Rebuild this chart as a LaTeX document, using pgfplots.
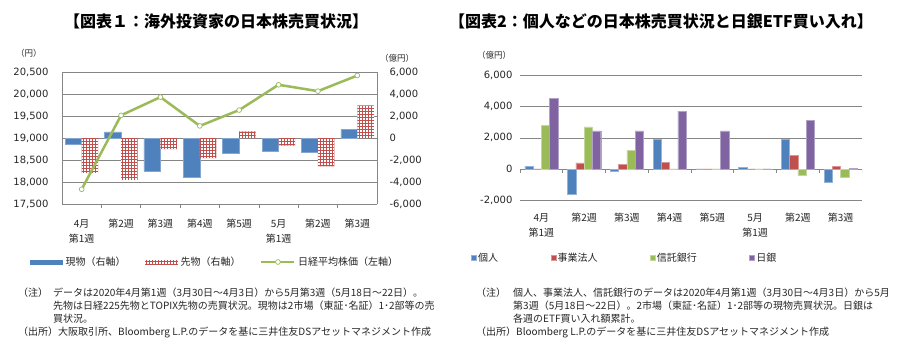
\documentclass[border=0pt]{standalone}
\usepackage{pgfplots}
\pgfplotsset{compat=1.18}
\usetikzlibrary{patterns}
\usepackage{fontspec}
\setmainfont{Noto Sans CJK JP}
\newfontfamily\numfont{DejaVu Sans}
\definecolor{cBlue}{HTML}{4F81BD}
\definecolor{cRed}{HTML}{C0504D}
\definecolor{cGreen}{HTML}{9BBB59}
\definecolor{cPurple}{HTML}{8064A2}
\definecolor{cGrid}{HTML}{868686}
\definecolor{cText}{HTML}{262626}
\pgfdeclarepatternformonly{wdots}{\pgfqpoint{-1pt}{-1pt}}{\pgfqpoint{3pt}{3pt}}{\pgfqpoint{3pt}{3pt}}{\pgfpathrectangle{\pgfqpoint{0pt}{0pt}}{\pgfqpoint{1.8pt}{1.8pt}}\pgfusepath{fill}}
\pgfplotsset{
  bigbar/.style={legend image code/.code={\fill[##1] (0pt,-2.5pt) rectangle (33pt,2.5pt);}},
  smallbar/.style={legend image code/.code={\fill[##1] (0pt,-2.5pt) rectangle (5pt,2.5pt);}},
  longline/.style={legend image code/.code={\draw[mark repeat=2,mark phase=2,##1] plot coordinates {(0pt,0pt) (16.5pt,0pt) (33pt,0pt)};}},
  base/.style={scale only axis, xmin=-0.5, xmax=7.5, major tick length=0pt,
    grid style={cGrid, line width=0.6pt},
    scaled y ticks=false,
    yticklabel style={font=\numfont\fontsize{10}{12}\selectfont, text=cText, /pgf/number format/fixed, /pgf/number format/precision=0},
    xticklabel style={align=center, font=\fontsize{10}{15}\selectfont, text=cText},
    /pgf/number format/1000 sep={,}, /pgf/number format/assume math mode=true},
  redbar/.style={fill=cRed, draw=none, postaction={pattern=wdots, pattern color=white}},
}
\begin{document}
\begin{tikzpicture}[x=1pt,y=1pt]
\fill[white] (0pt,0pt) rectangle (899pt,-345pt);
\useasboundingbox (0pt,0pt) rectangle (899pt,-345pt);

% ---------- titles
\node[font=\bfseries\fontsize{16}{18}\selectfont, text=black] at (216pt,-21pt) {【図表１：海外投資家の日本株売買状況】};
\node[font=\bfseries\fontsize{16}{18}\selectfont, text=black] at (661pt,-21pt) {【図表2：個人などの日本株売買状況と日銀ETF買い入れ】};

% ---------- chart 1 : right axis (bars)
\begin{axis}[base, at={(62pt,-204pt)}, anchor=south west, width=315pt, height=132pt,
  ymin=-6000, ymax=6000, ytick={-6000,-4000,...,6000},
  axis y line*=right, axis x line*=bottom, axis line style={-, draw=cGrid, line width=0.6pt},
  ymajorgrids,
  xtick={0,...,7},
  xticklabels={{4月\\第1週},第2週,第3週,第4週,第5週,{5月\\第1週},第2週,第3週},
  xticklabel style={yshift=-12pt},
  yticklabel style={xshift=9pt},
  extra x ticks={0.5,1.5,2.5,3.5,4.5,5.5,6.5}, extra x tick labels={},
  extra x tick style={major tick length=4pt, tick align=outside, tick style={cGrid, line width=0.6pt}, grid=none},
  ybar=0pt, bar width=16.5pt]
\addplot[fill=cBlue, draw=cBlue!70!white, line width=0.5pt] coordinates {(0,-600) (1,550) (2,-3000) (3,-3550) (4,-1430) (5,-1210) (6,-1300) (7,760)};
\addplot[redbar] coordinates {(0,-3180) (1,-3800) (2,-1000) (3,-1820) (4,600) (5,-700) (6,-2580) (7,2960)};
\end{axis}

% ---------- chart 1 : left axis (line)
\begin{axis}[base, at={(62pt,-204pt)}, anchor=south west, width=315pt, height=132pt,
  ymin=17500, ymax=20500, ytick={17500,18000,...,20500},
  axis y line*=left, axis x line=none, axis line style={-, draw=cGrid, line width=0.6pt},
  xtick=\empty,
  yticklabel style={xshift=-10pt},
  legend style={at={(axis description cs:-0.1016,-0.4394)}, anchor=west, draw=none, fill=none,
    legend columns=3, inner sep=0pt, font=\fontsize{10}{12}\selectfont, text=cText,
    nodes={inner sep=2.5pt},
    /tikz/every even column/.append style={column sep=17pt}},
  legend cell align=left]
\addlegendimage{bigbar, fill=cBlue, draw=none}
\addlegendentry{現物（右軸）}
\addlegendimage{bigbar, redbar}
\addlegendentry{先物（右軸）}
\addplot[cGreen, line width=2.5pt, mark=*, mark size=2.4pt, mark options={fill=white, draw=cGreen, line width=0.7pt}, longline]
  coordinates {(0,17835) (1,19515) (2,19930) (3,19275) (4,19635) (5,20210) (6,20065) (7,20420)};
\addlegendentry{日経平均株価（左軸）}
\end{axis}

\node[font=\fontsize{8.5}{10}\selectfont, text=cText] at (29pt,-53pt) {（円）};
\node[font=\fontsize{8.5}{10}\selectfont, text=cText] at (397pt,-58pt) {（億円）};

% ---------- chart 2
\begin{axis}[base, at={(520pt,-200.7pt)}, anchor=south west, width=342pt, height=125.7pt,
  ymin=-2000, ymax=6000, ytick={-2000,0,...,6000},
  axis line style={draw=none},
  ymajorgrids,
  xtick={0,...,7},
  xticklabels={{4月\\第1週},第2週,第3週,第4週,第5週,{5月\\第1週},第2週,第3週},
  xticklabel style={yshift=-9pt},
  yticklabel style={xshift=-4pt},
  ybar=0pt, bar width=8.3pt,
  legend style={at={(axis description cs:-0.1433,-0.456)}, anchor=west, draw=none, fill=none,
    legend columns=4, inner sep=0pt, font=\fontsize{10}{12}\selectfont, text=cText,
    nodes={inner sep=1.5pt},
    /tikz/every even column/.append style={column sep=51pt}},
  legend cell align=left]
\addplot[smallbar, fill=cBlue, draw=cBlue!60!white, line width=0.4pt] coordinates {(0,200) (1,-1600) (2,-100) (3,1900) (4,20) (5,130) (6,1900) (7,-850)};
\addlegendentry{個人}
\addplot[smallbar, fill=cRed, draw=cRed!60!white, line width=0.4pt] coordinates {(0,30) (1,400) (2,300) (3,450) (4,20) (5,20) (6,870) (7,200)};
\addlegendentry{事業法人}
\addplot[smallbar, fill=cGreen, draw=cGreen!60!white, line width=0.4pt] coordinates {(0,2800) (1,2700) (2,1200) (3,30) (4,20) (5,20) (6,-400) (7,-500)};
\addlegendentry{信託銀行}
\addplot[smallbar, fill=cPurple, draw=cPurple!60!white, line width=0.4pt] coordinates {(0,4500) (1,2450) (2,2450) (3,3700) (4,2450) (5,20) (6,3100) (7,40)};
\addlegendentry{日銀}
\pgfplotsinvokeforeach{-0.5,0.5,1.5,2.5,3.5,4.5,5.5,6.5,7.5}{\draw[cGrid, line width=0.6pt] (axis cs:#1,0) -- ++(0pt,-4pt);}
\end{axis}

\node[font=\fontsize{8.5}{10}\selectfont, text=cText] at (494pt,-55pt) {（億円）};

% ---------- footnotes
\begin{scope}[every node/.style={anchor=base west, inner sep=0pt, font=\fontsize{10}{12}\selectfont, text=cText}]
\node at (18pt,-296pt) {（注）};
\node at (53pt,-296pt) {データは2020年4月第1週（3月30日～4月3日）から5月第3週（5月18日～22日）。};
\node at (53pt,-309pt) {先物は日経225先物とTOPIX先物の売買状況。現物は2市場（東証･名証）1･2部等の売};
\node at (53pt,-322pt) {買状況。};
\node at (18pt,-335pt) {（出所）大阪取引所、Bloomberg L.P.のデータを基に三井住友DSアセットマネジメント作成};
\node at (476pt,-296pt) {（注）};
\node at (513pt,-296pt) {個人、事業法人、信託銀行のデータは2020年4月第1週（3月30日～4月3日）から5月};
\node at (513pt,-309pt) {第3週（5月18日～22日）。2市場（東証･名証）1･2部等の現物売買状況。日銀は};
\node at (513pt,-322pt) {各週のETF買い入れ額累計。};
\node at (476pt,-335pt) {（出所）Bloomberg L.P.のデータを基に三井住友DSアセットマネジメント作成};
\end{scope}
\end{tikzpicture}
\end{document}
